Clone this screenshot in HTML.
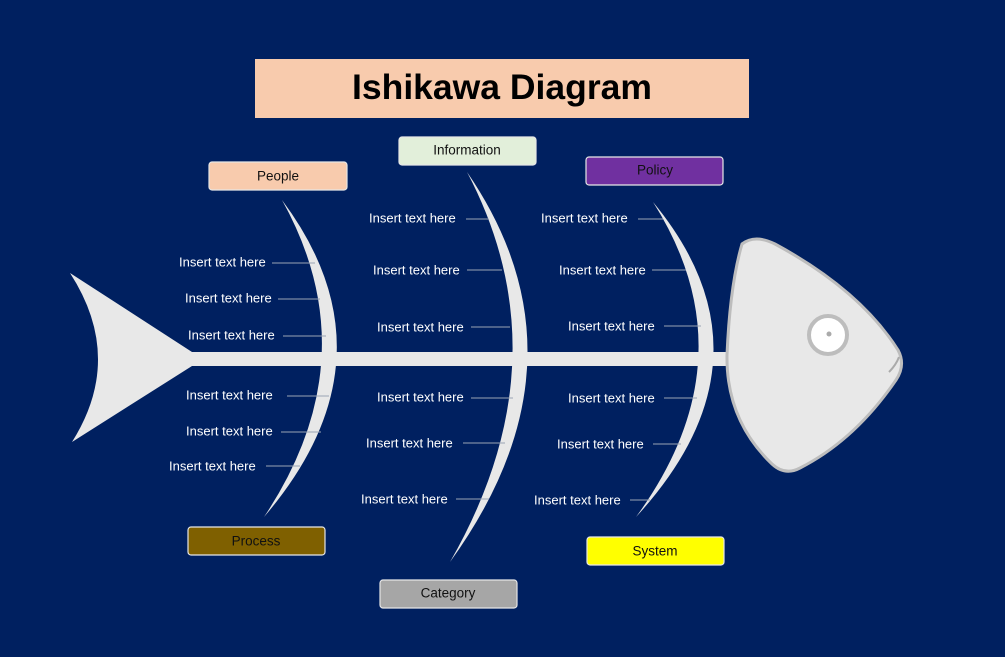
<!DOCTYPE html>
<html><head><meta charset="utf-8"><style>
html,body{margin:0;padding:0;background:#002060;}
svg{display:block;}
text{font-family:"Liberation Sans",Arial,sans-serif;}
.t{fill:#fff;font-size:13px;dominant-baseline:central;}
.l{stroke:#9aa3b5;stroke-width:1;}
.b{font-size:13.5px;text-anchor:middle;dominant-baseline:central;}
</style></head><body>
<svg width="1005" height="657" viewBox="0 0 1005 657" xmlns="http://www.w3.org/2000/svg">
<rect width="1005" height="657" fill="#002060"/>
<rect x="255" y="59" width="494" height="59" fill="#f8cbad"/>
<text x="502" y="87" font-size="35.5" font-weight="bold" text-anchor="middle" dominant-baseline="central" fill="#000">Ishikawa Diagram</text>
<path d="M70,273 L192,352 L192,366 L72,442 Q125,358 70,273 Z" fill="#e8e8e8"/>
<rect x="185" y="352" width="550" height="14" fill="#e8e8e8"/>
<path d="M282,200 Q400,358 264,517 Q370,358 282,200 Z" fill="#e8e8e8"/>
<path d="M467,172 Q596,360 450,562 Q566,360 467,172 Z" fill="#e8e8e8"/>
<path d="M653,202 Q782,358 636,517 Q752,358 653,202 Z" fill="#e8e8e8"/>
<path d="M742,244 Q755,234 775,244 Q860,290 898,350 Q906,365 896,380 Q855,440 800,468 Q785,476 772,464 Q726,420 727,355 Q730,285 742,244 Z" fill="#e8e8e8" stroke="#bdbdbd" stroke-width="3"/>
<path d="M889,372 Q896,365 899,357" stroke="#aaa" stroke-width="2" fill="none"/>
<circle cx="828" cy="335" r="19" fill="#fff" stroke="#bdbdbd" stroke-width="4"/>
<circle cx="829" cy="334" r="2.5" fill="#aaa"/>
<g class="l">
<line x1="272" y1="263" x2="315" y2="263"/><line x1="278" y1="299" x2="320" y2="299"/><line x1="283" y1="336" x2="326" y2="336"/>
<line x1="287" y1="396" x2="329" y2="396"/><line x1="281" y1="432" x2="321" y2="432"/><line x1="266" y1="466" x2="300" y2="466"/>
<line x1="466" y1="219" x2="489" y2="219"/><line x1="467" y1="270" x2="502" y2="270"/><line x1="471" y1="327" x2="510" y2="327"/>
<line x1="471" y1="398" x2="513" y2="398"/><line x1="463" y1="443" x2="505" y2="443"/><line x1="456" y1="499" x2="489" y2="499"/>
<line x1="638" y1="219" x2="663" y2="219"/><line x1="652" y1="270" x2="686" y2="270"/><line x1="664" y1="326" x2="701" y2="326"/>
<line x1="664" y1="398" x2="697" y2="398"/><line x1="653" y1="444" x2="681" y2="444"/><line x1="630" y1="500" x2="650" y2="500"/>
</g>
<g class="t">
<text x="179" y="262">Insert text here</text><text x="185" y="298">Insert text here</text><text x="188" y="335">Insert text here</text>
<text x="186" y="395">Insert text here</text><text x="186" y="431">Insert text here</text><text x="169" y="466">Insert text here</text>
<text x="369" y="218">Insert text here</text><text x="373" y="270">Insert text here</text><text x="377" y="327">Insert text here</text>
<text x="377" y="397">Insert text here</text><text x="366" y="443">Insert text here</text><text x="361" y="499">Insert text here</text>
<text x="541" y="218">Insert text here</text><text x="559" y="270">Insert text here</text><text x="568" y="326">Insert text here</text>
<text x="568" y="398">Insert text here</text><text x="557" y="444">Insert text here</text><text x="534" y="500">Insert text here</text>
</g>
<g stroke="#e6e6e6" stroke-width="1.2">
<rect x="209" y="162" width="138" height="28" rx="3" fill="#f8cbad"/>
<rect x="399" y="137" width="137" height="28" rx="3" fill="#e2efda"/>
<rect x="586" y="157" width="137" height="28" rx="3" fill="#7030a0"/>
<rect x="188" y="527" width="137" height="28" rx="3" fill="#7f6000"/>
<rect x="380" y="580" width="137" height="28" rx="3" fill="#a6a6a6"/>
<rect x="587" y="537" width="137" height="28" rx="3" fill="#ffff00"/>
</g>
<g fill="#111">
<text class="b" x="278" y="176">People</text>
<text class="b" x="467" y="150">Information</text>
<text class="b" x="655" y="170">Policy</text>
<text class="b" x="256" y="541">Process</text>
<text class="b" x="448" y="593">Category</text>
<text class="b" x="655" y="551">System</text>
</g>
</svg>
</body></html>
